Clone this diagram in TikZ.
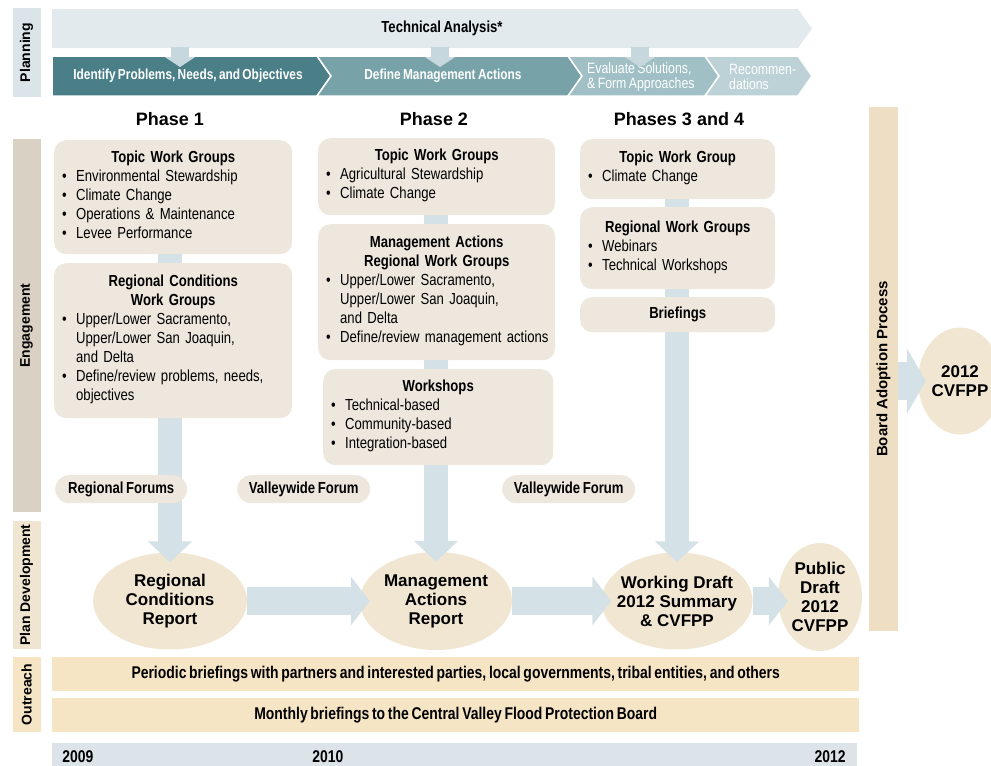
\documentclass[tikz,border=0pt]{standalone}
\usepackage{fontspec}
\setmainfont{Liberation Sans}
\newfontfamily\narrow{Liberation Sans}[FakeStretch=0.82, WordSpace=0.7]
\usepackage{xcolor}
\usetikzlibrary{shapes.geometric,arrows.meta}
\definecolor{PlanBlue}{HTML}{DBE4E8}
\definecolor{TechGray}{HTML}{E2EAED}
\definecolor{ChevA}{HTML}{4A7F88}
\definecolor{ChevB}{HTML}{76A2A8}
\definecolor{ChevC}{HTML}{A0C0C5}
\definecolor{ChevD}{HTML}{BCD2D7}
\definecolor{TipBlue}{HTML}{C6D7DD}
\definecolor{FlowBlue}{HTML}{D4E1E6}
\definecolor{BoxBeige}{HTML}{EDE7DE}
\definecolor{ReportTan}{HTML}{F1E6D2}
\definecolor{EngageTan}{HTML}{D9D1C3}
\definecolor{DevTan}{HTML}{F0E5D0}
\definecolor{OutTan}{HTML}{F6E5C5}
\definecolor{BoardTan}{HTML}{EEDFC4}
\definecolor{TimeBlue}{HTML}{DCE4E9}
\pgfdeclarelayer{front}
\pgfsetlayers{main,front}
\newcommand{\boxtitle}[1]{{\centering\bfseries #1\par}}
\newcommand{\bl}{\makebox[14pt][l]{\textbullet}}
\newcommand{\blist}[1]{\noindent\begin{tabular}[t]{@{}l@{}l@{}}#1\end{tabular}}

\begin{document}
\begin{tikzpicture}[x=1pt, y=-1pt,
    sidelab/.style={rotate=90, inner sep=0pt, minimum height=28pt, font=\bfseries\fontsize{14}{16}\selectfont},
    chevtext/.style={text=white, inner sep=0pt, font=\narrow\bfseries\fontsize{14.5}{16}\selectfont},
    chevsmall/.style={text=white, inner sep=0pt, anchor=west, align=left, font=\narrow\fontsize{15}{15}\selectfont},
    planarr/.style={draw=TipBlue, line width=18pt, -{Triangle[width=30pt,length=10pt]}},
    phase/.style={font=\bfseries\fontsize{18}{20}\selectfont},
    box/.style={fill=BoxBeige, rounded corners=12pt, anchor=north west, inner xsep=8pt, inner ysep=0pt, align=left, font=\narrow\fontsize{16}{19}\selectfont},
    pill/.style={fill=BoxBeige, rounded corners=14pt, anchor=north west, minimum height=28pt, inner sep=0pt, font=\narrow\bfseries\fontsize{16}{19}\selectfont},
    report/.style={ellipse, fill=ReportTan, inner sep=-15pt, align=center, font=\bfseries\fontsize{17}{19}\selectfont},
    vflow/.style={draw=FlowBlue, line width=24pt, -{Triangle[width=43pt,length=21pt]}, shorten >=-10pt},
    hflow/.style={draw=FlowBlue, line width=28pt, -{Triangle[width=48pt,length=19pt]}, shorten >=-10pt},
    outbar/.style={fill=OutTan, anchor=north west, minimum width=807pt, minimum height=34pt, inner sep=0pt, font=\narrow\bfseries\fontsize{17}{19}\selectfont},
    year/.style={inner sep=0pt, font=\narrow\bfseries\fontsize{17}{19}\selectfont}]
    \useasboundingbox (0,0) rectangle (991,766);

    \node[sidelab, fill=PlanBlue, minimum width=89pt] (planning) at (26.5,52.5) {Planning};
    \node[sidelab, fill=EngageTan, minimum width=373pt] (engagement) at (26.5,325.5) {Engagement};
    \node[sidelab, fill=DevTan, minimum width=128pt] (plandev) at (26.5,585) {Plan Development};
    \node[sidelab, fill=OutTan, minimum width=75pt] (outreach) at (26.5,694.5) {Outreach};

    \fill[TechGray] (52,9) -- (798,9) -- (812,28.5) -- (798,48) -- (52,48) -- cycle;
    \node[font=\narrow\bfseries\fontsize{16}{18}\selectfont] (ta) at (442,28) {Technical Analysis*};
    \filldraw[fill=ChevA, draw=white, line width=1.5pt] (52,56) -- (317,56) -- (331,76) -- (317,96) -- (52,96) -- cycle;
    \filldraw[fill=ChevB, draw=white, line width=1.5pt] (317,56) -- (568,56) -- (582,76) -- (568,96) -- (317,96) -- (331,76) -- cycle;
    \filldraw[fill=ChevC, draw=white, line width=1.5pt] (568,56) -- (705,56) -- (719,76) -- (705,96) -- (568,96) -- (582,76) -- cycle;
    \filldraw[fill=ChevD, draw=white, line width=1.5pt] (705,56) -- (798,56) -- (812,76) -- (798,96) -- (705,96) -- (719,76) -- cycle;
    \node[chevtext] (step1) at (188,76) {Identify Problems, Needs, and Objectives};
    \node[chevtext] (step2) at (443,76) {Define Management Actions};
    \node[chevsmall] (step3) at (587,77) {Evaluate Solutions,\\\& Form Approaches};
    \node[chevsmall] (step4) at (729,77) {Recommen-\\dations};

    \coordinate (ta1) at (180,47);
    \coordinate (ta2) at (440,47);
    \coordinate (ta3) at (640,47);
    \coordinate (s1) at (180,67);
    \coordinate (s2) at (440,67);
    \coordinate (s3) at (640,67);
    \draw[planarr] (ta1) -- (s1);
    \draw[planarr] (ta2) -- (s2);
    \draw[planarr] (ta3) -- (s3);

    \node[phase] (ph1) at (170,119) {Phase 1};
    \node[phase] (ph2) at (434,119) {Phase 2};
    \node[phase] (ph3) at (679,119) {Phases 3 and 4};

    \node[report, minimum width=154pt, minimum height=97pt] (p1rep) at (170,601) {Regional\\Conditions\\Report};
    \node[report, minimum width=152pt, minimum height=98pt] (p2rep) at (436,601) {Management\\Actions\\Report};
    \node[report, minimum width=151pt, minimum height=97pt] (p3rep) at (677,601) {Working Draft\\2012 Summary\\\& CVFPP};
    \node[report, minimum width=84pt, minimum height=108pt] (pubrep) at (820,597) {Public\\Draft\\2012\\CVFPP};
    \node[report, minimum width=84pt, minimum height=107pt] (final) at (960,381) {2012\\CVFPP};

    \begin{pgfonlayer}{front}
    \node[box, text width=222pt, minimum height=114pt] (p1topic) at (54,140) {\boxtitle{Topic Work Groups}\blist{\bl & Environmental Stewardship\\ \bl & Climate Change\\ \bl & Operations \& Maintenance\\ \bl & Levee Performance}};
    \node[box, text width=222pt, minimum height=155pt] (p1reg) at (54,263) {\boxtitle{Regional Conditions\\Work Groups}\blist{\bl & Upper/Lower Sacramento,\\ & Upper/Lower San Joaquin,\\ & and Delta\\ \bl & Define/review problems, needs,\\ & objectives}};
    \node[box, text width=221pt, minimum height=77pt] (p2topic) at (318,138) {\boxtitle{Topic Work Groups}\blist{\bl & Agricultural Stewardship\\ \bl & Climate Change}};
    \node[box, text width=221pt, minimum height=136pt] (p2reg) at (318,224) {\boxtitle{Management Actions\\Regional Work Groups}\blist{\bl & Upper/Lower Sacramento,\\ & Upper/Lower San Joaquin,\\ & and Delta\\ \bl & Define/review management actions}};
    \node[box, text width=214pt, minimum height=96pt] (p2ws) at (323,369) {\boxtitle{Workshops}\blist{\bl & Technical-based\\ \bl & Community-based\\ \bl & Integration-based}};
    \node[box, text width=179pt, minimum height=60pt] (p3topic) at (580,139) {\boxtitle{Topic Work Group}\blist{\bl & Climate Change}};
    \node[box, text width=179pt, minimum height=82pt] (p3reg) at (580,207) {\boxtitle{Regional Work Groups}\blist{\bl & Webinars\\ \bl & Technical Workshops}};
    \node[box, text width=179pt, minimum height=35pt] (p3brief) at (580,297) {\boxtitle{Briefings}};
    \node[pill, minimum width=132pt] (forum1) at (55,475) {Regional Forums};
    \node[pill, minimum width=133pt] (forum2) at (237,475) {Valleywide Forum};
    \node[pill, minimum width=133pt] (forum3) at (502,475) {Valleywide Forum};
    \end{pgfonlayer}

    \draw[vflow] (p1topic.south -| p1rep.north) -- (p1rep.north);
    \draw[vflow] (p2topic.south -| p2rep.north) -- (p2rep.north);
    \draw[vflow] (p3topic.south -| p3rep.north) -- (p3rep.north);
    \draw[hflow] (p1rep.east) -- (p2rep.west);
    \draw[hflow] (p2rep.east) -- (p3rep.west);
    \draw[hflow] (p3rep.east) -- (p3rep.east -| pubrep.west);

    \node[rotate=90, fill=BoardTan, minimum width=524pt, minimum height=29pt, inner sep=0pt, font=\bfseries\fontsize{15}{17}\selectfont] (board) at (883.5,369) {Board Adoption Process};
    \draw[draw=FlowBlue, line width=38pt, -{Triangle[width=65pt,length=19pt]}, shorten >=-8pt] (board.south |- final.west) -- (final.west);

    \node[outbar] (brief1) at (52,657) {Periodic briefings with partners and interested parties, local governments, tribal entities, and others};
    \node[outbar] (brief2) at (52,698) {Monthly briefings to the Central Valley Flood Protection Board};
    \node[fill=TimeBlue, anchor=north west, minimum width=805pt, minimum height=30pt, inner sep=0pt] (timeline) at (52,743) {};
    \node[year] (y2009) at (78,757) {2009};
    \node[year] (y2010) at (328,757) {2010};
    \node[year] (y2012) at (830,757) {2012};
\end{tikzpicture}
\end{document}
